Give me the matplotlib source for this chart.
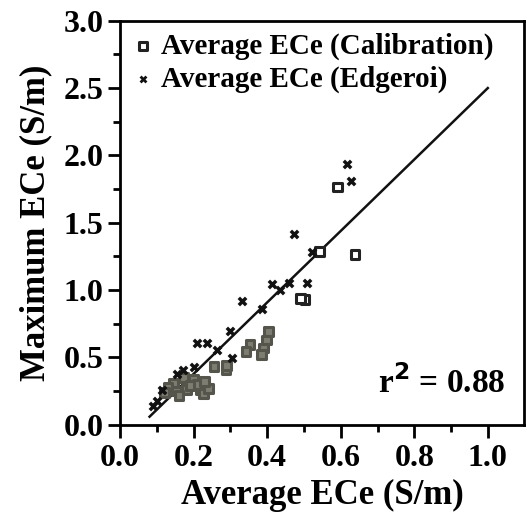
import matplotlib
matplotlib.use('Agg')
import matplotlib.pyplot as plt
from matplotlib.ticker import MultipleLocator

plt.rcParams['font.family'] = ['Liberation Serif', 'DejaVu Serif']
plt.rcParams['font.weight'] = 'bold'

# Average ECe (Calibration) points
cal_x = [0.592, 0.639, 0.543, 0.503, 0.49, 0.403, 0.398, 0.39, 0.353, 0.342,
         0.385, 0.288, 0.29, 0.255, 0.217, 0.181, 0.145, 0.154, 0.199, 0.226,
         0.172, 0.13, 0.16, 0.21, 0.24, 0.12, 0.19, 0.23]
cal_y = [1.766, 1.265, 1.285, 0.93, 0.94, 0.694, 0.63, 0.57, 0.595, 0.545,
         0.52, 0.409, 0.44, 0.43, 0.26, 0.26, 0.31, 0.25, 0.335, 0.235,
         0.35, 0.28, 0.22, 0.3, 0.27, 0.24, 0.29, 0.32]

# Average ECe (Edgeroi) points
edg_x = [0.618, 0.627, 0.474, 0.332, 0.414, 0.459, 0.507, 0.523, 0.435, 0.385,
         0.299, 0.208, 0.236, 0.263, 0.303, 0.113, 0.09, 0.1, 0.172, 0.154, 0.2]
edg_y = [1.934, 1.81, 1.42, 0.92, 1.047, 1.054, 1.054, 1.285, 1.0, 0.856,
         0.694, 0.61, 0.61, 0.558, 0.496, 0.26, 0.136, 0.18, 0.409, 0.38, 0.43]

# regression line end points
fit_x = [0.08, 1.0]
fit_y = [0.06, 2.5]

fig = plt.figure(figsize=(5.27, 5.18), dpi=100)
ax = fig.add_axes([0.228, 0.18, 0.766, 0.78])

# dense low cluster looks grey in the scan
cal_face = ['#7d7d72' if y < 0.75 else 'white' for y in cal_y]
cal_edge = ['#55554c' if y < 0.75 else '#222222' for y in cal_y]

ax.plot(fit_x, fit_y, color='#111111', lw=1.8, zorder=2)
ax.scatter(cal_x, cal_y, marker='s', s=40, facecolors=cal_face, edgecolors=cal_edge,
           linewidths=2.2, zorder=3, label='Average ECe (Calibration)')
ax.scatter(edg_x, edg_y, marker='X', s=50, color='#111111', linewidths=0,
           zorder=4, label='Average ECe (Edgeroi)')

ax.text(0.70, 0.31, 'r$^\\mathbf{2}$ = 0.88', fontsize=24, fontweight='bold',
        ha='left', va='center')

ax.set_xlim(0, 1.098)
ax.set_ylim(0, 3.0)
ax.set_xticks([0.0, 0.2, 0.4, 0.6, 0.8, 1.0])
ax.set_yticks([0.0, 0.5, 1.0, 1.5, 2.0, 2.5, 3.0])
ax.xaxis.set_minor_locator(MultipleLocator(0.1))
ax.yaxis.set_minor_locator(MultipleLocator(0.25))
ax.tick_params(which='major', direction='out', length=9, width=2, labelsize=23)
ax.tick_params(axis='x', which='major', pad=5)
ax.tick_params(axis='y', which='major', pad=3)
ax.tick_params(which='minor', direction='out', length=5, width=2)
for lab in ax.get_xticklabels() + ax.get_yticklabels():
    lab.set_fontweight('bold')
for s in ax.spines.values():
    s.set_linewidth(2)

ax.set_xlabel('Average ECe (S/m)', fontsize=25, fontweight='bold', labelpad=4)
ax.set_ylabel('Maximum ECe (S/m)', fontsize=25, fontweight='bold', labelpad=8)

leg = ax.legend(loc='upper left', frameon=False, fontsize=21, handletextpad=0.2,
                markerscale=0.8, borderaxespad=0.1, labelspacing=0.2, handlelength=0.8,
                borderpad=0.3)
leg.legend_handles[0].set_facecolor('white')
leg.legend_handles[0].set_edgecolor('#222222')

fig.savefig('out.png', dpi=100)
